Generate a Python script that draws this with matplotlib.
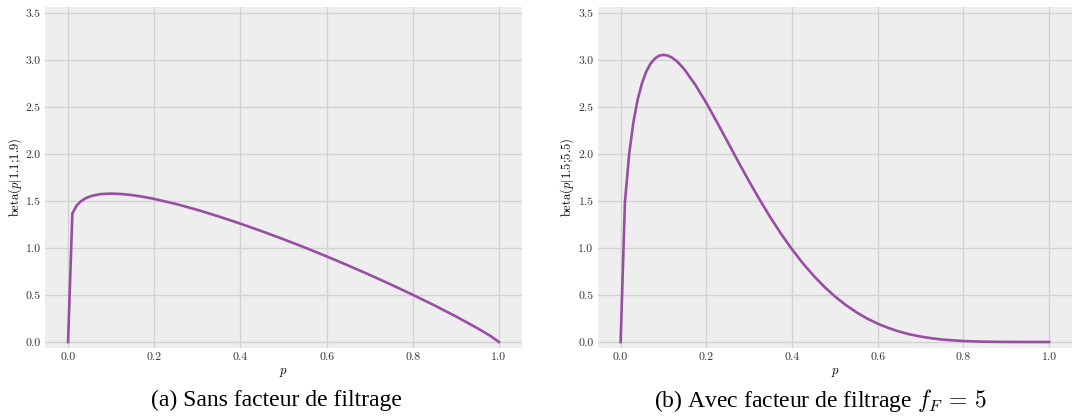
import numpy as np
import matplotlib
matplotlib.use("Agg")
import matplotlib.pyplot as plt

# values
p_a = [0.0, 0.01, 0.02, 0.03, 0.04, 0.05, 0.06, 0.075, 0.1, 0.125, 0.15, 0.175, 0.2, 0.25,
       0.3, 0.35, 0.4, 0.45, 0.5, 0.55, 0.6, 0.65, 0.7, 0.75, 0.8, 0.85, 0.9, 0.95, 0.98, 1.0]
beta_a = [0.0, 1.367, 1.452, 1.498, 1.527, 1.547, 1.560, 1.573, 1.579, 1.574, 1.562, 1.544,
          1.522, 1.469, 1.406, 1.335, 1.259, 1.178, 1.093, 1.004, 0.911, 0.814, 0.714,
          0.610, 0.502, 0.390, 0.272, 0.147, 0.065, 0.0]

p_b = [0.0, 0.01, 0.02, 0.03, 0.04, 0.05, 0.06, 0.07, 0.08, 0.09, 0.1, 0.11, 0.12, 0.13,
       0.14, 0.15, 0.175, 0.2, 0.225, 0.25, 0.275, 0.3, 0.325, 0.35, 0.375, 0.4, 0.425,
       0.45, 0.475, 0.5, 0.525, 0.55, 0.575, 0.6, 0.625, 0.65, 0.675, 0.7, 0.725, 0.75,
       0.8, 0.85, 0.9, 0.95, 1.0]
beta_b = [0.0, 1.484, 2.004, 2.344, 2.583, 2.755, 2.878, 2.963, 3.016, 3.046, 3.055, 3.047,
          3.025, 2.991, 2.946, 2.893, 2.732, 2.543, 2.338, 2.127, 1.915, 1.708, 1.510,
          1.322, 1.147, 0.986, 0.839, 0.707, 0.589, 0.485, 0.395, 0.317, 0.250, 0.195,
          0.149, 0.111, 0.081, 0.058, 0.040, 0.026, 0.010, 0.003, 0.0005, 0.0, 0.0]

ylabels = ["beta$(p|1.1;\\!1.9)$", "beta$(p|1.5;\\!5.5)$"]
captions = ["(a) Sans facteur de filtrage", "(b) Avec facteur de filtrage $f_F\\,=\\,5$"]
xticks = [0.0, 0.2, 0.4, 0.6, 0.8, 1.0]
yticks = [0.0, 0.5, 1.0, 1.5, 2.0, 2.5, 3.0, 3.5]

plt.rcParams["font.family"] = ["cmr10", "DejaVu Serif"]
plt.rcParams["mathtext.fontset"] = "cm"
plt.rcParams["axes.formatter.use_mathtext"] = True

W, H = 1072, 416
fig = plt.figure(figsize=(W / 100, H / 100), dpi=100)

lefts = [45, 597.7]
rights = [522, 1072]
top, bottom = 7, 348
curves = [(p_a, beta_a), (p_b, beta_b)]
cap_x = [276, 820]
ylab_x = [15, 567]

for i in range(2):
    wpx = rights[i] - lefts[i]
    ax = fig.add_axes([lefts[i] / W, 1 - bottom / H, wpx / W, (bottom - top) / H])
    ax.set_facecolor("#eeeeee")
    for s in ax.spines.values():
        s.set_visible(False)
    ax.grid(True, color="#d2d2d2", linewidth=1.0)
    ax.set_axisbelow(True)
    ax.plot(curves[i][0], curves[i][1], color="#984ea3", linewidth=1.9)
    ax.set_xlim(-0.0535, 1.0535)
    ax.set_ylim(-0.064, 3.564)
    ax.set_xticks(xticks)
    ax.set_yticks(yticks)
    ax.set_xticklabels(["%.1f" % v for v in xticks])
    ax.set_yticklabels(["%.1f" % v for v in yticks])
    ax.tick_params(labelsize=8.5, labelcolor="#333333", length=0, pad=3)
    ax.set_xlabel("$p$", fontsize=9, labelpad=3)
    ax.set_ylabel(ylabels[i], fontsize=9, va="center")
    ax.yaxis.set_label_coords((ylab_x[i] - lefts[i]) / wpx, 0.5)
    fig.text(cap_x[i] / W, 1 - 400 / H, captions[i], ha="center", va="center", fontsize=17,
             family=["Liberation Serif"])

fig.savefig("out.png", dpi=100)
